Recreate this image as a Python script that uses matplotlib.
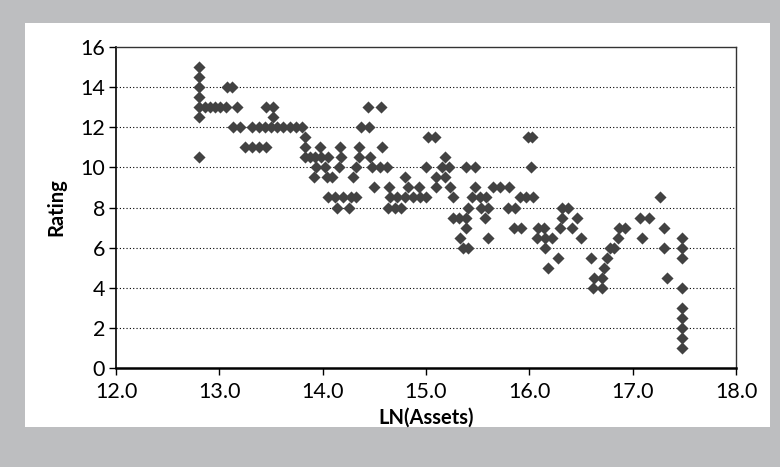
import matplotlib
matplotlib.use("Agg")
import matplotlib.pyplot as plt
from matplotlib.patches import Rectangle

plt.rcParams['font.family'] = ['Lato', 'DejaVu Sans']

# LN(Assets) and rating
ln_assets = [
    12.8, 12.8, 12.8, 12.8, 12.8, 12.8, 12.8,
    12.86, 12.91, 12.96, 13.01, 13.06, 13.17,
    13.07, 13.12,
    13.45, 13.52, 13.52,
    13.13, 13.2, 13.32, 13.38, 13.44, 13.5, 13.56, 13.62, 13.68, 13.74, 13.8,
    13.25, 13.32, 13.38, 13.45,
    13.83, 13.83, 13.83,
    13.97, 14.17, 14.35, 14.57,
    13.88, 13.93, 13.98, 14.05, 14.18, 14.35, 14.46,
    13.94, 14.02, 14.16, 14.32, 14.48, 14.55, 14.62,
    13.92, 14.04, 14.09, 14.29, 14.8,
    14.5, 14.64, 14.83, 14.93,
    14.05, 14.12, 14.2, 14.27, 14.32, 14.65, 14.72, 14.8, 14.87, 14.94,
    14.14, 14.25, 14.63, 14.7, 14.76,
    14.44, 14.56,
    14.37, 14.45,
    15.02, 15.09, 15.99, 16.03,
    15.18,
    15.0, 15.15, 15.22, 15.39, 15.47, 16.02,
    15.1, 15.18,
    15.1, 15.23, 15.47, 15.65, 15.72, 15.8,
    15.0, 15.26, 15.45, 15.52, 15.58, 15.91, 15.97, 16.04,
    15.41, 15.53, 15.6, 15.79, 15.86, 16.32, 16.37,
    15.26, 15.32, 15.39, 15.57, 16.32, 16.46, 17.07, 17.16,
    15.39, 15.85, 15.92, 16.08, 16.14, 16.3, 16.41, 16.87, 16.93, 17.3,
    15.33, 15.6, 16.07, 16.15, 16.22, 16.5, 16.86, 17.09, 17.48,
    15.36, 15.41, 16.15, 16.78, 16.82, 17.3, 17.48,
    16.28, 16.6, 16.75, 17.48,
    16.18, 16.72,
    16.63, 16.7, 17.33,
    16.62, 16.7, 17.48,
    17.26,
    17.48, 17.48, 17.48, 17.48, 17.48,
]
rating = [
    15, 14.5, 14, 13.5, 13, 12.5, 10.5,
    13, 13, 13, 13, 13, 13,
    14, 14,
    13, 13, 12.5,
    12, 12, 12, 12, 12, 12, 12, 12, 12, 12, 12,
    11, 11, 11, 11,
    11.5, 11, 10.5,
    11, 11, 11, 11,
    10.5, 10.5, 10.5, 10.5, 10.5, 10.5, 10.5,
    10, 10, 10, 10, 10, 10, 10,
    9.5, 9.5, 9.5, 9.5, 9.5,
    9, 9, 9, 9,
    8.5, 8.5, 8.5, 8.5, 8.5, 8.5, 8.5, 8.5, 8.5, 8.5,
    8, 8, 8, 8, 8,
    13, 13,
    12, 12,
    11.5, 11.5, 11.5, 11.5,
    10.5,
    10, 10, 10, 10, 10, 10,
    9.5, 9.5,
    9, 9, 9, 9, 9, 9,
    8.5, 8.5, 8.5, 8.5, 8.5, 8.5, 8.5, 8.5,
    8, 8, 8, 8, 8, 8, 8,
    7.5, 7.5, 7.5, 7.5, 7.5, 7.5, 7.5, 7.5,
    7, 7, 7, 7, 7, 7, 7, 7, 7, 7,
    6.5, 6.5, 6.5, 6.5, 6.5, 6.5, 6.5, 6.5, 6.5,
    6, 6, 6, 6, 6, 6, 6,
    5.5, 5.5, 5.5, 5.5,
    5, 5,
    4.5, 4.5, 4.5,
    4, 4, 4,
    8.5,
    3, 2.5, 2, 1.5, 1,
]

x_ticks = [12, 13, 14, 15, 16, 17, 18]
y_ticks = [0, 2, 4, 6, 8, 10, 12, 14, 16]

W, H = 780, 467
fig = plt.figure(figsize=(7.8, 4.67), dpi=100, facecolor='#bdbec0')
# white panel inside the grey frame
fig.add_artist(Rectangle((25 / W, 1 - 427 / H), 745 / W, 404 / H,
                         transform=fig.transFigure, facecolor='white',
                         edgecolor='none', zorder=0))

ax = fig.add_axes([116 / W, 1 - 368 / H, 620 / W, 321 / H], zorder=1)
ax.set_facecolor('white')

ax.scatter(ln_assets, rating, marker='D', s=38, color='#424242',
           linewidths=0, zorder=3, clip_on=False)

ax.set_xlim(12, 18)
ax.set_ylim(0, 16)
ax.set_xticks(x_ticks)
ax.set_xticklabels([f"{t:.1f}" for t in x_ticks])
ax.set_yticks(y_ticks)

for y in y_ticks[1:-1]:
    ax.axhline(y, color='black', linestyle=(0, (1, 2)), linewidth=0.8, zorder=1)

for side in ['top', 'right']:
    ax.spines[side].set_linewidth(1.0)
    ax.spines[side].set_color('#333333')
ax.spines['left'].set_linewidth(1.2)
ax.spines['bottom'].set_linewidth(1.8)

ax.tick_params(direction='out', length=5, width=1, labelsize=15.5,
               colors='black', pad=3)
ax.tick_params(axis='x', pad=5)

ax.set_xlabel('LN(Assets)', fontsize=14.5, fontweight='bold', labelpad=4)
ax.set_ylabel('Rating', fontsize=14.5, fontweight='bold', labelpad=10)

fig.savefig('out.png', dpi=100, facecolor=fig.get_facecolor())
